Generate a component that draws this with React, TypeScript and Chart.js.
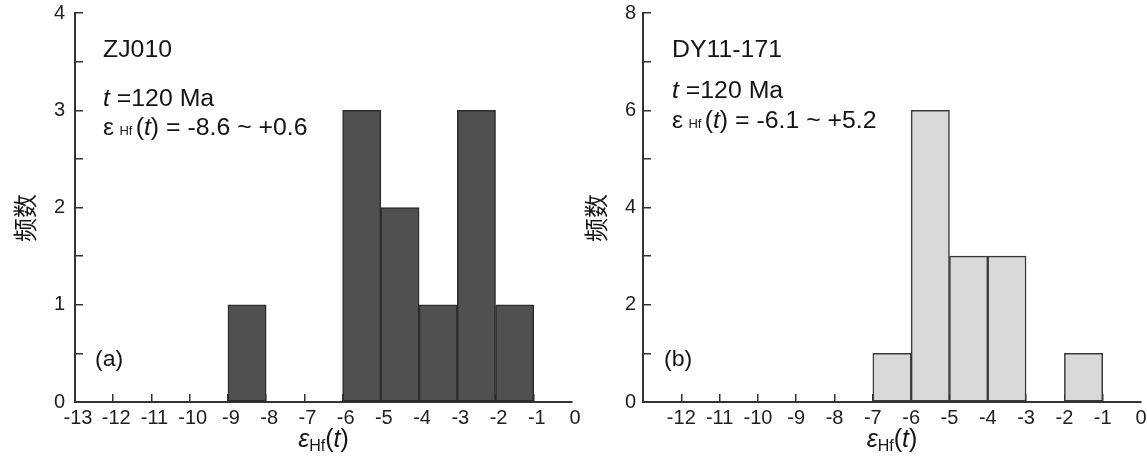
import React, { useEffect, useRef } from 'react';
import { Chart, registerables } from 'chart.js';

Chart.register(...registerables);

// ---------- data ----------
const xMin = -13;
const xMax = 0;
const binWidth = 1;

const binStartsA = [-9, -6, -5, -4, -3, -2];
const countsA = [1, 3, 2, 1, 3, 1];
const binStartsB = [-7, -6, -5, -4, -2];
const countsB = [1, 6, 3, 3, 1];

const yMaxA = 4;
const yMaxB = 8;

const sampleA = 'ZJ010';
const sampleB = 'DY11-171';
const ageText = ' =120 Ma';
const rangeA = ') = -8.6 ~ +0.6';
const rangeB = ') = -6.1 ~ +5.2';
const panelLabelA = '(a)';
const panelLabelB = '(b)';
const yTitle = '频数';

const W = 1147;
const H = 460;
const SANS = '"Liberation Sans", Arial, Helvetica, sans-serif';
const CJK = '"Noto Sans CJK SC", "Noto Sans", sans-serif';

type Run = { text: string; size: number; italic?: boolean; dx?: number; dy?: number; font?: string };

function fontOf(r: Run) {
  return `${r.italic ? 'italic ' : ''}${r.size}px ${r.font || SANS}`;
}

function drawRuns(ctx: CanvasRenderingContext2D, x: number, y: number, runs: Run[], align: 'left' | 'center', sx = 1) {
  let total = 0;
  for (const r of runs) {
    ctx.font = fontOf(r);
    total += (r.dx || 0) + ctx.measureText(r.text).width;
  }
  ctx.save();
  ctx.translate(x, y);
  ctx.scale(sx, 1);
  ctx.textAlign = 'left';
  ctx.textBaseline = 'alphabetic';
  let cx = align === 'center' ? -total / 2 : 0;
  for (const r of runs) {
    ctx.font = fontOf(r);
    cx += r.dx || 0;
    ctx.fillText(r.text, cx, r.dy || 0);
    cx += ctx.measureText(r.text).width;
  }
  ctx.restore();
}

type Panel = {
  starts: number[];
  counts: number[];
  yMax: number;
  yStep: number;
  labelEvery: number;
  fill: string;
  stroke: string;
  padLeft: number;
  padRight: number;
  yAxisWidth: number;
  yPad: number;
  labelOffset: number;
  hideXLabels: number[];
  sample: string;
  range: string;
  panelLabel: string;
  sampleY: number;
  ageY: number;
  rangeY: number;
  textX: number;
  yTitleX: number;
};

function annotationPlugin(p: Panel) {
  return {
    id: 'annot',
    afterDraw(chart: any) {
      const ctx: CanvasRenderingContext2D = chart.ctx;
      const ca = chart.chartArea;
      ctx.save();
      ctx.fillStyle = '#141414';
      const S = 23;
      const sx = 1.08;
      drawRuns(ctx, p.textX, p.sampleY, [{ text: p.sample, size: S }], 'left', sx);
      drawRuns(ctx, p.textX, p.ageY, [
        { text: 't', size: S, italic: true },
        { text: ageText, size: S },
      ], 'left', sx);
      drawRuns(ctx, p.textX, p.rangeY, [
        { text: 'ε', size: S },
        { text: 'Hf', size: 12, dx: 5 },
        { text: '(', size: S, dx: 3 },
        { text: 't', size: S, italic: true },
        { text: p.range, size: S },
      ], 'left', sx);
      drawRuns(ctx, p.textX - 8, 366, [{ text: p.panelLabel, size: 22 }], 'left', 1.05);

      // x title
      drawRuns(ctx, (ca.left + ca.right) / 2, 447, [
        { text: 'ε', size: 25, italic: true },
        { text: 'Hf', size: 16, dy: 4 },
        { text: '(', size: 25 },
        { text: 't', size: 25, italic: true },
        { text: ')', size: 25 },
      ], 'center');

      // y title
      ctx.save();
      ctx.translate(p.yTitleX, 218);
      ctx.rotate(-Math.PI / 2);
      ctx.font = `24px ${CJK}`;
      ctx.textAlign = 'center';
      ctx.textBaseline = 'middle';
      ctx.fillText(yTitle, 0, 0);
      ctx.restore();
      ctx.restore();
    },
  };
}

function buildChart(canvas: HTMLCanvasElement, p: Panel) {
  const data = p.starts.map((s, i) => ({ x: s + binWidth / 2, y: p.counts[i] }));
  const axisColor = '#333333';
  return new Chart(canvas, {
    type: 'bar',
    data: {
      datasets: [
        {
          data,
          backgroundColor: p.fill,
          borderColor: p.stroke,
          borderWidth: 1.5,
          borderSkipped: false,
          barPercentage: 1,
          categoryPercentage: 1,
        } as any,
      ],
    },
    options: {
      animation: false,
      responsive: false,
      maintainAspectRatio: false,
      events: [],
      layout: { padding: { left: p.padLeft, top: 13, right: p.padRight, bottom: 0 } },
      plugins: { legend: { display: false }, tooltip: { enabled: false }, title: { display: false } },
      scales: {
        x: {
          type: 'linear',
          min: xMin,
          max: xMax,
          offset: false,
          grid: {
            offset: false,
            drawOnChartArea: false,
            drawTicks: true,
            tickLength: -8,
            lineWidth: 1.5,
            color: (c: any) =>
              c.tick && (c.tick.value === xMin || c.tick.value === xMax) ? 'rgba(0,0,0,0)' : axisColor,
          },
          border: { display: true, color: axisColor, width: 2 },
          ticks: {
            stepSize: 1,
            autoSkip: false,
            maxRotation: 0,
            minRotation: 0,
            padding: 12,
            labelOffset: p.labelOffset,
            color: '#1e1e1e',
            font: { size: 20, family: SANS },
            callback: (v: any) => (p.hideXLabels.includes(Number(v)) ? '' : String(v)),
          },
          afterFit: (s: any) => {
            s.height = 58;
            s.paddingLeft = 0;
            s.paddingRight = 0;
          },
        } as any,
        y: {
          type: 'linear',
          min: 0,
          max: p.yMax,
          grid: {
            drawOnChartArea: false,
            drawTicks: true,
            tickLength: -8,
            lineWidth: 1.5,
            color: axisColor,
          },
          border: { display: true, color: axisColor, width: 2 },
          ticks: {
            stepSize: p.yStep,
            autoSkip: false,
            padding: p.yPad,
            color: '#1e1e1e',
            font: { size: 20, family: SANS },
            callback: (v: any) => (Number(v) % p.labelEvery === 0 ? String(v) : ''),
          },
          afterFit: (s: any) => {
            s.width = p.yAxisWidth;
            s.paddingTop = 0;
            s.paddingBottom = 0;
          },
        } as any,
      },
    },
    plugins: [annotationPlugin(p) as any],
  });
}

const panelA: Panel = {
  starts: binStartsA,
  counts: countsA,
  yMax: yMaxA,
  yStep: 0.5,
  labelEvery: 1,
  fill: '#505050',
  stroke: '#2c2c2c',
  padLeft: 0,
  padRight: W - 572,
  yAxisWidth: 75,
  yPad: 18,
  labelOffset: 3,
  hideXLabels: [],
  sample: sampleA,
  range: rangeA,
  panelLabel: panelLabelA,
  sampleY: 57,
  ageY: 106,
  rangeY: 135,
  textX: 103,
  yTitleX: 25,
};

const panelB: Panel = {
  starts: binStartsB,
  counts: countsB,
  yMax: yMaxB,
  yStep: 1,
  labelEvery: 2,
  fill: '#d9d9d9',
  stroke: '#3a3a3a',
  padLeft: 643 - 69,
  padRight: W - 1141,
  yAxisWidth: 69,
  yPad: 15,
  labelOffset: 0,
  hideXLabels: [-13],
  sample: sampleB,
  range: rangeB,
  panelLabel: panelLabelB,
  sampleY: 57,
  ageY: 98,
  rangeY: 128,
  textX: 672,
  yTitleX: 596,
};

function HistCanvas({ p }: { p: Panel }) {
  const ref = useRef<HTMLCanvasElement | null>(null);
  useEffect(() => {
    if (!ref.current) return;
    const chart = buildChart(ref.current, p);
    return () => chart.destroy();
  }, [p]);
  return (
    <canvas
      ref={ref}
      width={W}
      height={H}
      style={{ position: 'absolute', left: 0, top: 0, width: W, height: H, display: 'block' }}
    />
  );
}

export default function App() {
  return (
    <div style={{ position: 'fixed', left: 0, top: 0, width: W, height: H, background: '#ffffff', overflow: 'hidden' }}>
      <HistCanvas p={panelA} />
      <HistCanvas p={panelB} />
    </div>
  );
}
